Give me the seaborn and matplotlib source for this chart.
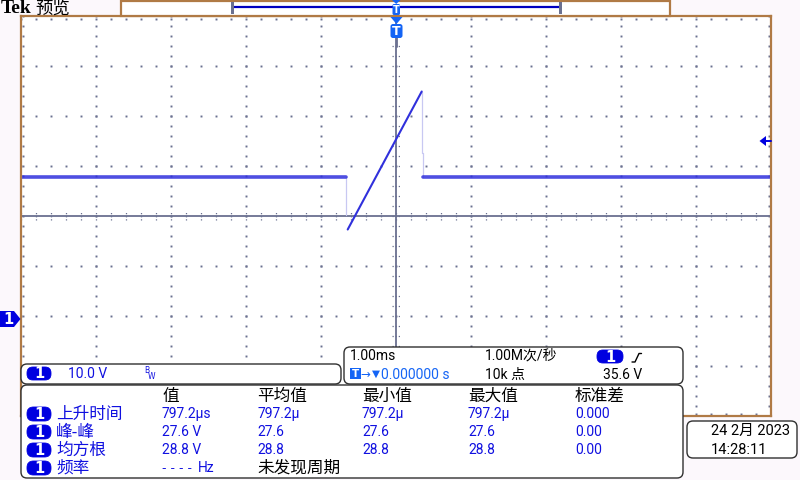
import numpy as np
import pandas as pd
import matplotlib
matplotlib.use("Agg")
import matplotlib.pyplot as plt
import seaborn as sns
from matplotlib.patches import FancyBboxPatch, Rectangle, Polygon

sns.set_style("white")
plt.rcParams["font.family"] = ["Roboto", "Noto Sans CJK SC", "DejaVu Sans"]

# ---------------- data (time in ms, voltage in V) ----------------
base_left_t = [-5.0, -0.663]
base_left_v = [28.2, 28.2]
fall_t = [-0.663, -0.663]
fall_v = [28.2, 20.6]
ramp_t = [-0.644, 0.343]
ramp_v = [17.7, 45.3]
rise_t = [0.343, 0.343, 0.357, 0.357]
rise_v = [45.3, 33.1, 33.1, 28.2]
base_right_t = [0.357, 5.0]
base_right_v = [28.2, 28.2]

trigger_level = 35.6
volts_per_div = 10.0
ms_per_div = 1.0
screen_center_v = 20.4

meas_headers = ["值", "平均值", "最小值", "最大值", "标准差"]
meas_labels = ["上升时间", "峰-峰", "均方根", "频率"]
meas_value = ["797.2μs", "27.6 V", "28.8 V", "---- Hz"]
meas_mean = ["797.2μ", "27.6", "28.8", "未发现周期"]
meas_min = ["797.2μ", "27.6", "28.8", ""]
meas_max = ["797.2μ", "27.6", "28.8", ""]
meas_std = ["0.000", "0.00", "0.00", ""]

# ---------------- colours ----------------
BG = "#fcf8fc"
ORANGE = "#b07a45"
GRID = "#6a7090"
SIG = "#3030dc"
FAINT = "#c8c8f2"
PILL = "#0000e0"
TBLUE = "#1464f5"
TXTB = "#1010e0"

fig = plt.figure(figsize=(8, 4.8), dpi=100, facecolor=BG)

# main scope axes: pixel box x 21..771, y 16..416
ax = fig.add_axes([21 / 800, 64 / 480, 750 / 800, 400 / 480])
ax.set_facecolor("white")
xlo, xhi = -5 * ms_per_div, 5 * ms_per_div
ylo, yhi = screen_center_v - 4 * volts_per_div, screen_center_v + 4 * volts_per_div
ax.set_xlim(xlo, xhi)
ax.set_ylim(ylo, yhi)
ax.set_xticks([])
ax.set_yticks([])
for s in ax.spines.values():
    s.set_color(ORANGE)
    s.set_linewidth(1.6)

# graticule
xmaj = np.arange(-5, 6) * ms_per_div
ymaj = screen_center_v + np.arange(-4, 5) * volts_per_div
xmin = np.arange(-25, 26) * 0.2 * ms_per_div
ymin = screen_center_v + np.arange(-20, 21) * 0.2 * volts_per_div
for xv in xmaj[1:-1]:
    if abs(xv) < 1e-9:
        continue
    ax.plot(np.full_like(ymin, xv), ymin, ls="none", marker="s", ms=1.4, mew=0, color=GRID)
for yv in ymaj[1:-1]:
    if abs(yv - screen_center_v) < 1e-9:
        continue
    ax.plot(xmin, np.full_like(xmin, yv), ls="none", marker="s", ms=1.4, mew=0, color=GRID)
ax.axvline(0, color=GRID, lw=1.3)
ax.axhline(screen_center_v, color=GRID, lw=1.3)
dx4 = 4 / 75 * ms_per_div
dy4 = 4 / 50 * volts_per_div
for yv in ymin:
    ax.plot([-dx4, dx4], [yv, yv], color=GRID, lw=0.9, ls=(0, (1, 1.5)))
for xv in xmin:
    ax.plot([xv, xv], [screen_center_v - dy4, screen_center_v + dy4], color=GRID, lw=0.9, ls=(0, (1, 1.5)))
# edge ticks
ax.plot(xmin, np.full_like(xmin, yhi - 0.5), ls="none", marker="s", ms=1.4, mew=0, color=GRID)
ax.plot(xmin, np.full_like(xmin, ylo + 0.5), ls="none", marker="s", ms=1.4, mew=0, color=GRID)
ax.plot(np.full_like(ymin, xlo + 0.03), ymin, ls="none", marker="s", ms=1.4, mew=0, color=GRID)
ax.plot(np.full_like(ymin, xhi - 0.03), ymin, ls="none", marker="s", ms=1.4, mew=0, color=GRID)

# signal
sns.lineplot(x=fall_t, y=fall_v, ax=ax, color=FAINT, lw=0.9, sort=False, estimator=None)
sns.lineplot(x=rise_t, y=rise_v, ax=ax, color=FAINT, lw=0.9, sort=False, estimator=None)
sns.lineplot(x=base_left_t, y=base_left_v, ax=ax, color=SIG, lw=2.6, alpha=0.85, sort=False, estimator=None)
sns.lineplot(x=base_right_t, y=base_right_v, ax=ax, color=SIG, lw=2.6, alpha=0.85, sort=False, estimator=None)
sns.lineplot(x=ramp_t, y=ramp_v, ax=ax, color=SIG, lw=1.5, sort=False, estimator=None)
ax.set_xlabel("")
ax.set_ylabel("")

# ---------------- overlay in pixel coordinates ----------------
ov = fig.add_axes([0, 0, 1, 1])
ov.set_xlim(0, 800)
ov.set_ylim(480, 0)
ov.axis("off")
ov.patch.set_alpha(0)

CJK = ["Noto Sans CJK SC", "DejaVu Sans"]
LAT = ["Roboto", "Noto Sans CJK SC", "DejaVu Sans"]


def txt(x, y, s, color="black", size=10, family=LAT, **kw):
    ov.text(x, y, s, color=color, fontsize=size, family=family, ha=kw.pop("ha", "left"),
            va=kw.pop("va", "center"), **kw)


def box(x, y, w, h, r=6, ec="#303030", fc="white", lw=1.0):
    ov.add_patch(FancyBboxPatch((x + r, y + r), w - 2 * r, h - 2 * r,
                                boxstyle=f"round,pad={r},rounding_size={r}",
                                fc=fc, ec=ec, lw=lw, zorder=3))


def pill(x, y, w=24, h=14):
    ov.add_patch(FancyBboxPatch((x, y), w, h, boxstyle=f"round,pad=0,rounding_size={h / 2 - 0.5}",
                                fc=PILL, ec=PILL, lw=0.6, zorder=4))
    ov.text(x + w / 2, y + h / 2 + 0.5, "1", color="white", fontsize=10.5, fontweight="bold",
            family=["DejaVu Sans"], ha="center", va="center", zorder=5)


# title
txt(1, 8.5, "Tek", size=14, family=["Liberation Serif"], fontweight="bold")
txt(35, 8.5, "预览", size=12.5, family=CJK)

# top record bar
ov.add_patch(Rectangle((121, 0.5), 549, 15.5, fc="white", ec=ORANGE, lw=1.6, zorder=2))
ov.plot([233, 560], [7, 7], color="#0000c0", lw=1.6, zorder=3)
ov.add_patch(Rectangle((231, 1.5), 3, 12.5, fc=GRID, ec="none", zorder=3))
ov.add_patch(Rectangle((559, 1.5), 3, 12.5, fc=GRID, ec="none", zorder=3))

# trigger position markers
ov.add_patch(Polygon([(392, 0), (400.5, 0), (396.2, 4)], closed=True, fc=TBLUE, ec="none", zorder=4))
ov.add_patch(FancyBboxPatch((392.5, 4), 7.5, 11, boxstyle="round,pad=0,rounding_size=1.5",
                            fc=TBLUE, ec="none", zorder=4))
ov.text(396.2, 9.8, "T", color="white", fontsize=7, fontweight="bold", family=["DejaVu Sans"],
        ha="center", va="center", zorder=5)
ov.add_patch(Polygon([(390.5, 17), (402.5, 17), (396.5, 24)], closed=True, fc=TBLUE, ec="none", zorder=4))
ov.add_patch(FancyBboxPatch((390.5, 24), 12, 14, boxstyle="round,pad=0,rounding_size=2.5",
                            fc=TBLUE, ec="none", zorder=4))
ov.text(396.5, 31.5, "T", color="white", fontsize=9, fontweight="bold", family=["DejaVu Sans"],
        ha="center", va="center", zorder=5)
ov.plot([396.5, 396.5], [38, 47], color=GRID, lw=1.3, zorder=3)

# channel ground marker
ov.add_patch(Polygon([(0, 311), (14, 311), (20.5, 319), (14, 327), (0, 327)], closed=True,
                     fc=PILL, ec="none", zorder=4))
ov.text(8, 319.5, "1", color="white", fontsize=10.5, fontweight="bold", family=["DejaVu Sans"],
        ha="center", va="center", zorder=5)

# trigger level marker
ov.add_patch(Polygon([(759.5, 141), (766, 136), (766, 146)], closed=True, fc=PILL, ec="none", zorder=4))
ov.plot([765, 771], [141, 141], color=PILL, lw=1.4, zorder=4)

# channel readout box
box(21, 364, 320, 20)
pill(27, 367, 24, 13)
txt(68, 374, "10.0 V", color=TXTB, size=10, zorder=5)
txt(144, 370.5, "B", color=TXTB, size=5.5, family=["DejaVu Sans"], zorder=5)
txt(147.5, 376.5, "W", color=TXTB, size=5.5, family=["DejaVu Sans"], zorder=5)

# timebase box
box(344, 347, 339, 37)
txt(350, 355.5, "1.00ms", size=10, zorder=5)
txt(485, 355.5, "1.00M次/秒", size=10, zorder=5)
pill(597, 350, 26, 13)
ov.plot([632, 635, 639, 641.5], [362, 362, 353.5, 353.5], color="black", lw=1.0, zorder=5)
ov.add_patch(Rectangle((349.5, 368), 11, 11, fc=TBLUE, ec="none", zorder=5))
ov.text(355, 373.8, "T", color="white", fontsize=7.5, fontweight="bold", family=["DejaVu Sans"],
        ha="center", va="center", zorder=6)
txt(360.5, 374.5, "→", color=TBLUE, size=8.5, family=["DejaVu Sans"], zorder=5)
txt(371.5, 373.5, "▼", color=TBLUE, size=7.5, family=["DejaVu Sans"], zorder=5)
txt(381, 375, "0.000000 s", color=TBLUE, size=10, zorder=5)
txt(485, 375, "10k 点", size=10, zorder=5)
txt(603, 375, "35.6 V", size=10, zorder=5)

# measurement box
box(21, 385, 662, 93)
hx = [162, 257, 362, 468, 575]
for xh, h in zip(hx, meas_headers):
    txt(xh, 396.5, h, size=12, family=CJK, zorder=5)
rows_y = [414, 432, 450, 468]
for i, yy in enumerate(rows_y):
    pill(27, yy - 7, 24, 14)
    txt(56, yy, meas_labels[i], color=TXTB, size=12, family=CJK, zorder=5)
    if i < 3:
        txt(hx[0], yy, meas_value[i], color=TXTB, size=10, zorder=5)
        txt(hx[1], yy, meas_mean[i], color=TXTB, size=10, zorder=5)
        txt(hx[2], yy, meas_min[i], color=TXTB, size=10, zorder=5)
        txt(hx[3], yy, meas_max[i], color=TXTB, size=10, zorder=5)
        txt(hx[4], yy, meas_std[i], color=TXTB, size=10, zorder=5)
    else:
        dashes, unit = meas_value[i].split(" ")
        txt(hx[0], yy, " ".join(dashes), color=TXTB, size=9, family=["DejaVu Sans"], zorder=5)
        txt(198, yy, unit, color=TXTB, size=10, zorder=5)
        txt(hx[1], yy, meas_mean[i], color="black", size=12, family=CJK, zorder=5)

# date box
box(687, 421, 110, 37)
txt(711, 431, "24 2月 2023", size=10.5, zorder=5)
txt(711, 449.5, "14:28:11", size=10.5, zorder=5)

fig.savefig("out.png", dpi=100, facecolor=BG)
